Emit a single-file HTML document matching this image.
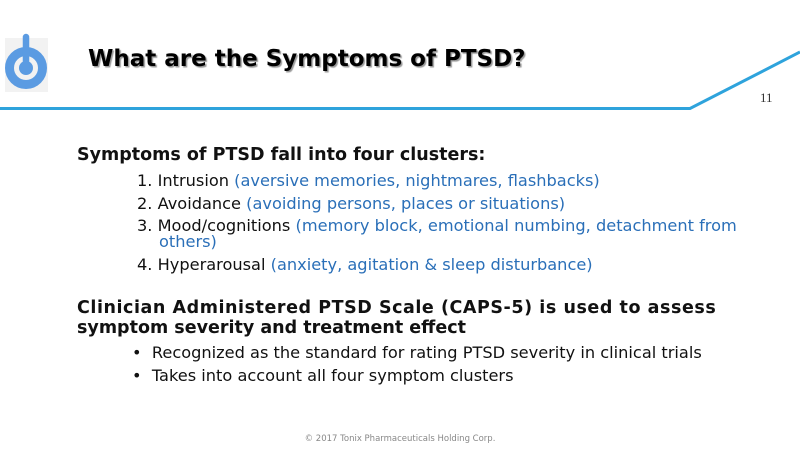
<!DOCTYPE html>
<html><head><meta charset="utf-8"><style>
body{margin:0;width:800px;height:450px;overflow:hidden;background:#fff;position:relative;font-family:"DejaVu Sans","Liberation Sans",sans-serif;}
.a{position:absolute;white-space:nowrap;line-height:1;}
.h{font-weight:bold;font-size:17.5px;color:#111;left:77px;}
.t{font-size:16.2px;color:#111;}
.b{color:#2a6fb8;}
</style></head><body>
<svg class="a" style="left:0;top:0" width="800" height="450">
<rect x="5" y="38" width="43" height="54" fill="#f2f2f2"/>
<circle cx="26" cy="68" r="16.5" fill="none" stroke="#5b9be2" stroke-width="9"/>
<circle cx="26" cy="68" r="7" fill="#5b9be2"/>
<line x1="26" y1="37" x2="26" y2="68" stroke="#5b9be2" stroke-width="6.5" stroke-linecap="round"/>
<polyline points="0,108.5 690,108.5 800,52" fill="none" stroke="#2ea3dc" stroke-width="3"/>
</svg>
<div class="a" style="left:88px;top:48px;font-size:23px;font-weight:bold;color:#000;text-shadow:1.5px 1.5px 1px #999;">What are the Symptoms of PTSD?</div>
<div class="a" style="left:760px;top:91px;font-family:'Liberation Serif',serif;font-size:13px;color:#333;">11</div>
<div class="a h" style="top:147px;">Symptoms of PTSD fall into four clusters:</div>
<div class="a t" style="left:137px;top:173px;">1. Intrusion <span class="b">(aversive memories, nightmares, flashbacks)</span></div>
<div class="a t" style="left:137px;top:196px;">2. Avoidance <span class="b">(avoiding persons, places or situations)</span></div>
<div class="a t" style="left:137px;top:218px;">3. Mood/cognitions <span class="b">(memory block, emotional numbing, detachment from</span></div>
<div class="a t b" style="left:159px;top:234px;">others)</div>
<div class="a t" style="left:137px;top:257px;">4. Hyperarousal <span class="b">(anxiety, agitation &amp; sleep disturbance)</span></div>
<div class="a h" style="top:300px;letter-spacing:0.55px;">Clinician Administered PTSD Scale (CAPS-5) is used to assess</div>
<div class="a h" style="top:320px;">symptom severity and treatment effect</div>
<div class="a t" style="left:132px;top:345px;">•&nbsp;&nbsp;Recognized as the standard for rating PTSD severity in clinical trials</div>
<div class="a t" style="left:132px;top:368px;">•&nbsp;&nbsp;Takes into account all four symptom clusters</div>
<div class="a" style="left:0;width:800px;text-align:center;top:435px;font-size:8.5px;color:#888;">© 2017 Tonix Pharmaceuticals Holding Corp.</div>
</body></html>
